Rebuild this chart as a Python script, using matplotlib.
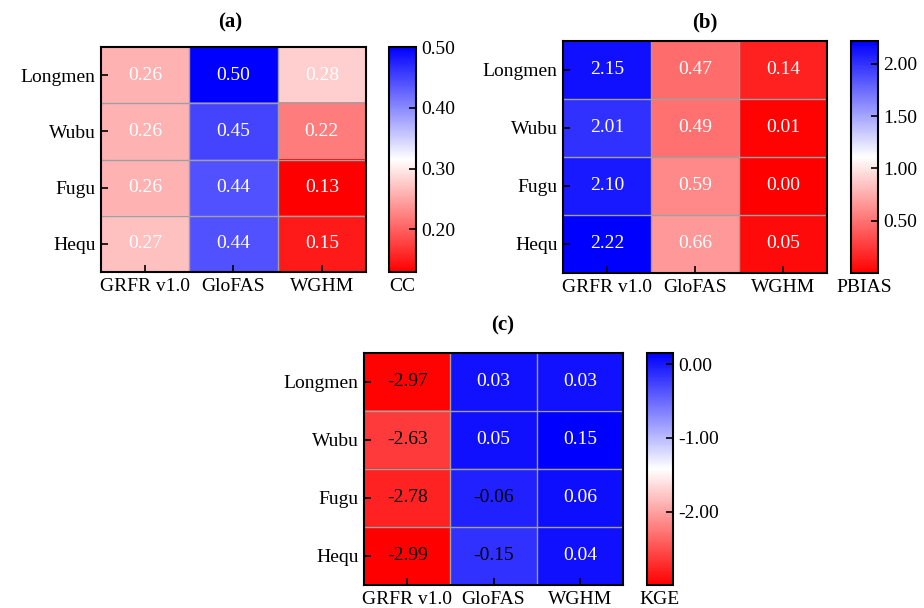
import numpy as np
import matplotlib
matplotlib.use("Agg")
import matplotlib.pyplot as plt

plt.rcParams.update({
    "font.family": ["Liberation Serif", "DejaVu Serif"],
    "font.size": 14,
    "axes.linewidth": 1.5,
})

stations = ["Longmen", "Wubu", "Fugu", "Hequ"]
products = ["GRFR v1.0", "GloFAS", "WGHM"]

cc = [[0.26, 0.50, 0.28],
      [0.26, 0.45, 0.22],
      [0.26, 0.44, 0.13],
      [0.27, 0.44, 0.15]]
pbias = [[2.15, 0.47, 0.14],
         [2.01, 0.49, 0.01],
         [2.10, 0.59, 0.00],
         [2.22, 0.66, 0.05]]
kge = [[-2.97, 0.03, 0.03],
       [-2.63, 0.05, 0.15],
       [-2.78, -0.06, 0.06],
       [-2.99, -0.15, 0.04]]

cc_ticks = [0.20, 0.30, 0.40, 0.50]
pbias_ticks = [0.50, 1.00, 1.50, 2.00]
kge_ticks = [-2.00, -1.00, 0.00]

fig = plt.figure(figsize=(9.24, 6.08), dpi=100)
W, H = 924, 608


def px(l, t, r, b):
    return [l / W, 1 - b / H, (r - l) / W, (b - t) / H]


def panel(data, ticks, label, title, ax_box, cb_box, title_xy, dark_neg=False):
    data = np.array(data)
    ax = fig.add_axes(px(*ax_box))
    im = ax.imshow(data, cmap="bwr_r", aspect="auto",
                   vmin=data.min(), vmax=data.max(), interpolation="nearest")
    for k in range(1, data.shape[0]):
        ax.axhline(k - 0.5, color="#a0a0a0", lw=1)
    for k in range(1, data.shape[1]):
        ax.axvline(k - 0.5, color="#a0a0a0", lw=1)
    for i in range(data.shape[0]):
        for j in range(data.shape[1]):
            v = data[i, j]
            c = "black" if (dark_neg and v < 0) else "white"
            ax.text(j, i, f"{v:.2f}", ha="center", va="center", color=c, fontsize=14)
    ax.set_xticks(range(len(products)))
    ax.set_xticklabels(products)
    ax.set_yticks(range(len(stations)))
    ax.set_yticklabels(stations)
    ax.tick_params(direction="in", length=5, width=1.2, pad=4, labelsize=14)

    cax = fig.add_axes(px(*cb_box))
    cb = fig.colorbar(im, cax=cax)
    cb.set_ticks(ticks)
    cb.set_ticklabels([f"{t:.2f}" for t in ticks])
    cax.tick_params(direction="in", length=5, width=1.2, labelsize=14, pad=4)
    cb.outline.set_linewidth(1.5)
    cax.set_xlabel(label, fontsize=14, labelpad=4)

    fig.text(title_xy[0] / W, 1 - title_xy[1] / H, title, ha="center", va="center",
             fontsize=15, fontweight="bold")


panel(cc, cc_ticks, "CC", "(a)", (101, 47, 366, 272), (389, 47, 416, 272), (230, 22))
panel(pbias, pbias_ticks, "PBIAS", "(b)", (563, 41, 827, 273), (851, 41, 878, 273), (705, 22))
panel(kge, kge_ticks, "KGE", "(c)", (364, 353, 623, 585), (647, 353, 673, 585), (503, 325),
      dark_neg=True)

fig.savefig("out.png", dpi=100)
